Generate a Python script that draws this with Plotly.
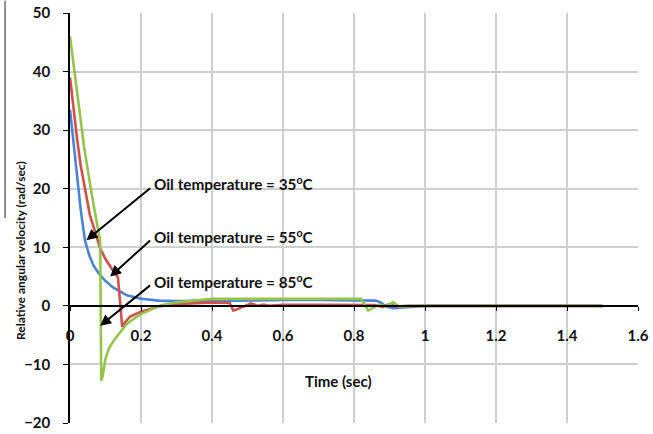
import plotly.graph_objects as go

# Relative angular velocity of the clutch vs time, for three oil temperatures
t_35 = [0, 0.005, 0.01, 0.02, 0.03, 0.042, 0.055, 0.066, 0.08, 0.094, 0.12, 0.16, 0.2, 0.25,
        0.3, 0.4, 0.5, 0.6, 0.7, 0.8, 0.86, 0.875, 0.89, 0.91, 0.94, 0.97, 1.0, 1.5]
v_35 = [33.5, 30.5, 27.5, 21.5, 16.5, 11.2, 8.5, 6.9, 5.6, 4.6, 3.2, 1.8, 1.2, 0.9,
        0.8, 0.85, 0.95, 1.0, 1.0, 0.95, 0.9, 0.6, -0.1, -0.4, -0.3, -0.1, 0.0, 0.0]

t_55 = [0, 0.01, 0.02, 0.03, 0.047, 0.056, 0.07, 0.085, 0.1, 0.113, 0.127, 0.135, 0.14, 0.147,
        0.155, 0.17, 0.2, 0.25, 0.3, 0.35, 0.4, 0.45, 0.46, 0.47, 0.49, 0.51, 0.53, 0.545,
        0.56, 0.6, 0.7, 0.8, 0.86, 0.88, 0.9, 0.92, 0.95, 1.0, 1.5]
v_55 = [39.0, 33.5, 28.5, 24.0, 18.3, 15.5, 12.8, 9.8, 8.0, 6.7, 5.5, 4.9, 1.2, -3.6,
        -2.8, -1.8, -1.0, -0.1, 0.3, 0.5, 0.6, 0.5, -0.8, -0.6, -0.1, 0.4, 0.0, 0.2,
        0.0, 0.2, 0.2, 0.2, 0.15, -0.2, 0.3, -0.1, 0.0, 0.0, 0.0]

t_85 = [0, 0.01, 0.02, 0.04, 0.06, 0.075, 0.085, 0.088, 0.092, 0.1, 0.11, 0.127, 0.145, 0.16,
        0.18, 0.2, 0.23, 0.254, 0.3, 0.35, 0.4, 0.5, 0.6, 0.7, 0.82, 0.83, 0.84, 0.855,
        0.87, 0.89, 0.91, 0.93, 0.96, 1.0, 1.5]
v_85 = [46.0, 41.0, 36.0, 27.0, 19.5, 14.5, 11.0, -12.8, -12.0, -9.0, -7.2, -5.6, -4.2, -3.1,
        -2.2, -1.4, -0.6, 0.05, 0.6, 0.95, 1.2, 1.2, 1.2, 1.2, 1.2, 0.2, -0.8, -0.3,
        0.2, -0.1, 0.6, -0.2, 0.0, 0.0, 0.0]

x_ticks = [0, 0.2, 0.4, 0.6, 0.8, 1, 1.2, 1.4, 1.6]
x_tick_text = ["0", "0.2", "0.4", "0.6", "0.8", "1", "1.2", "1.4", "1.6"]
y_ticks = [-20, -10, 0, 10, 20, 30, 40, 50]

labels = ["Oil temperature = 35<sup>o</sup>C",
          "Oil temperature = 55<sup>o</sup>C",
          "Oil temperature = 85<sup>o</sup>C"]
label_pos = [(0.232, 20.9), (0.232, 12.0), (0.232, 4.3)]
arrow_tip = [(0.046, 11.2), (0.113, 5.0), (0.085, -3.4)]

BLUE = "#4A83D4"
RED = "#D0504D"
GREEN = "#93C54B"
FONT = "Lato"

fig = go.Figure()
for t, v, c in [(t_35, v_35, BLUE), (t_55, v_55, RED), (t_85, v_85, GREEN)]:
    fig.add_trace(go.Scatter(x=t, y=v, mode="lines", line=dict(color=c, width=2.6),
                             showlegend=False, hoverinfo="skip"))

# Labels with arrows pointing at each curve
for txt, (lx, ly), (tx, ty) in zip(labels, label_pos, arrow_tip):
    fig.add_annotation(x=lx, y=ly, xref="x", yref="y", text=txt, showarrow=False,
                       xanchor="left", yanchor="middle",
                       font=dict(family=FONT, size=15.3, color="#111111", weight="bold"))
    fig.add_annotation(x=tx, y=ty, xref="x", yref="y", ax=lx - 0.002, ay=ly - 0.6,
                       axref="x", ayref="y", text="", showarrow=True,
                       arrowhead=2, arrowsize=1.1, arrowwidth=2, arrowcolor="#000000",
                       standoff=0, startstandoff=0)

# Axis titles
fig.add_annotation(x=0.755, y=-12.8, xref="x", yref="y", text="Time (sec)", showarrow=False,
                   font=dict(family=FONT, size=15, color="#111111", weight="bold"))
fig.add_annotation(x=-0.086, y=0.42, xref="paper", yref="paper",
                   xanchor="center", yanchor="middle",
                   text="Relative angular velocity (rad/sec)", showarrow=False, textangle=-90,
                   font=dict(family=FONT, size=12, color="#111111", weight="bold"))
fig.add_shape(type="line", xref="paper", yref="paper", x0=-0.1144, x1=-0.1144,
              y0=1.03, y1=0.5, line=dict(color="#222222", width=1))

fig.update_layout(
    width=653, height=434,
    margin=dict(l=70, r=15, t=13, b=11),
    paper_bgcolor="white", plot_bgcolor="white",
    xaxis=dict(range=[0, 1.6], tickvals=x_ticks, ticktext=x_tick_text, automargin=False,
               showgrid=True, gridcolor="#cfcfcf", gridwidth=1.6,
               zeroline=False, showline=True, linecolor="#000000", linewidth=1.5,
               anchor="free", position=20 / 70, ticks="outside", ticklen=4,
               tickcolor="#000000", ticklabelstandoff=12,
               tickfont=dict(family=FONT, size=15, color="#111111", weight="bold")),
    yaxis=dict(range=[-20, 50], tickvals=y_ticks, automargin=False,
               showgrid=True, gridcolor="#cfcfcf", gridwidth=1.6,
               zeroline=False, showline=True, linecolor="#000000", linewidth=1.5,
               ticks="outside", ticklen=5, tickcolor="#000000", ticklabelstandoff=10,
               tickfont=dict(family=FONT, size=15, color="#111111", weight="bold")),
)

fig.write_html("out.html")
